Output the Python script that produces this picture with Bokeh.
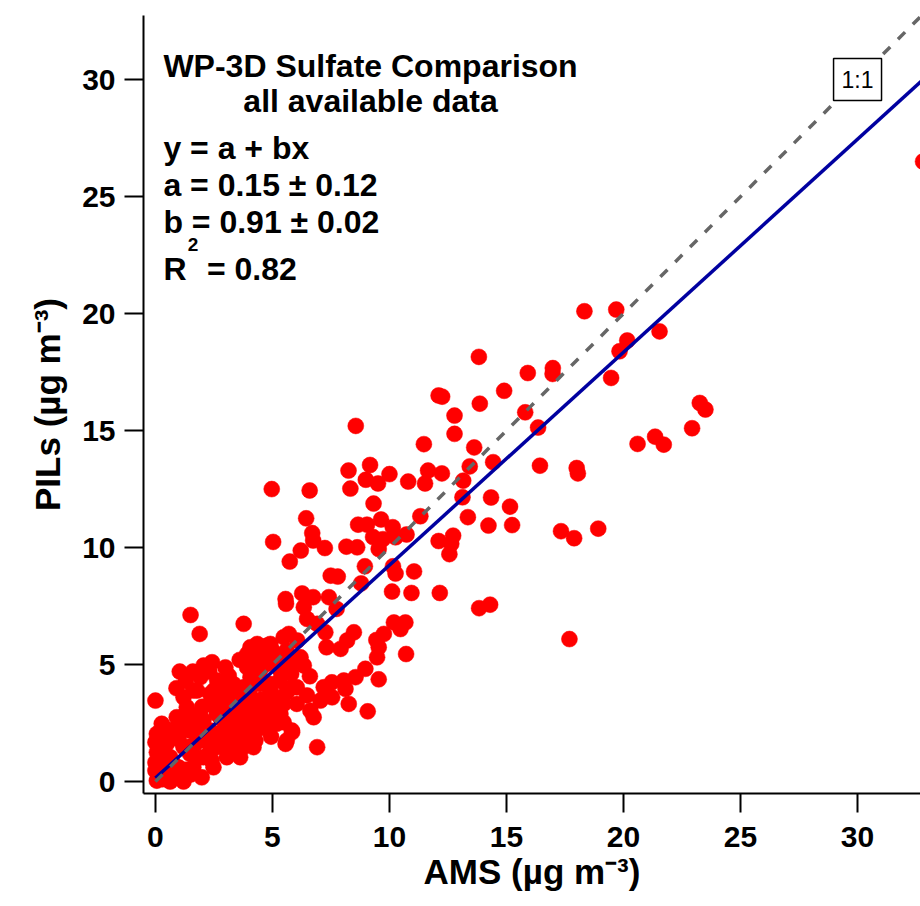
from bokeh.plotting import figure
from bokeh.models import Range1d, FixedTicker, Label, ColumnDataSource
from bokeh.embed import file_html
from bokeh.resources import INLINE

# ---- data ----
ams = [32.8, 18.33, 19.69, 21.54, 20.16, 19.83, 19.47, 13.82, 16.98, 16.97, 15.91, 12.25, 12.1,
       14.9, 13.86, 12.78, 12.78, 15.8, 16.35, 23.26, 23.5, 22.93, 21.35, 21.72, 20.6, 13.62,
       13.43, 14.43, 12.24, 13.15, 16.43, 18.0, 18.05, 13.12, 14.34, 15.15, 13.35, 14.23, 15.24,
       12.72, 12.64, 12.56, 12.1, 17.33, 17.89, 18.92, 12.15, 13.83, 14.3, 17.69,
       8.56, 11.47, 8.25, 9.17, 8.99, 9.51, 10.0, 8.33, 4.97, 6.59, 10.8, 11.65, 11.52, 9.32,
       6.44, 8.66, 9.04, 9.64, 10.14, 10.73, 11.32, 9.3, 9.72, 10.26, 9.54, 5.03, 6.7, 6.74,
       6.21, 7.24, 8.16, 8.62, 5.74, 8.95, 10.15, 10.26, 11.05, 7.49, 7.79, 8.79, 10.11, 10.94,
       6.27, 6.74, 7.41, 5.56,
       5.58, 6.34, 6.48, 6.91, 7.74, 7.26, 8.48, 5.7, 7.31, 7.91, 8.19, 10.19, 10.68, 10.47,
       9.76, 9.44, 9.54, 9.47, 10.71, 6.34, 8.97, 9.54, 8.55, 8.05, 7.54, 7.19, 8.12, 8.26,
       9.07, 5.84, 6.48, 7.05, 7.55, 5.48, 6.62, 6.76, 5.34, 5.48, 5.84, 5.56, 6.91, 4.94,
       4.27, 4.91, 4.35, 4.35, 5.48, 4.91, 4.35, 6.06, 5.34, 4.77, 6.2, 5.91,
       1.5, 1.89, 3.77, 1.04, 0.9, 0.0, 2.06, 2.42, 2.99, 4.06, 3.92, 4.77, 1.92, 2.64, 3.13,
       1.78, 2.49, 3.28, 3.92, 4.06, 3.77,
       0.27, 0.06, 0.0, 0.06, 0.0, 0.0, 0.06, 0.63, 1.2, 1.98, 2.48, 3.05, 3.62, 5.61, 5.83,
       5.18, 6.04, 6.04, 0.91, 1.34, 1.62, 2.34, 3.05, 4.05, 4.19, 3.76, 3.76, 3.19, 2.62,
       2.05, 1.62, 0.91, 1.2, 0.63, 0.48, 1.48, 2.05, 2.62, 3.19, 2.34, 3.05, 3.47, 3.33,
       4.47, 1.2, 4.19, 5.18, 0.34, 0.77, 1.48, 4.62, 4.9,
       0.3, 0.5, 1.0, 1.5, 0.3, 0.8, 1.0, 1.7, 2.3, 2.9, 2.8, 1.9, 2.3, 2.8, 3.5, 3.9, 3.4,
       4.0, 4.5, 4.6, 5.0, 5.3, 5.0, 4.5, 3.6, 5.6, 5.8, 6.6, 1.4, 2.6, 3.3, 4.2,
       0.5, 1.0, 1.3, 1.8, 2.2, 2.7, 3.2, 3.7, 4.2, 4.6, 5.0, 1.0, 1.6, 2.0, 2.5, 3.0, 3.5,
       4.0, 4.4, 1.3, 1.6, 2.3, 3.6, 4.2, 5.3, 5.6, 5.7, 4.8, 0.6, 1.2, 0.3, 0.2, 2.8, 3.4,
       2.0, 1.5, 0.9, 2.9, 4.1, 3.8, 3.3, 2.4]
pils = [26.5, 20.1, 20.17, 19.24, 18.85, 18.39, 17.25, 18.15, 17.67, 17.42, 17.46, 16.45, 16.5,
        16.7, 16.15, 15.64, 14.86, 15.78, 15.13, 16.18, 15.9, 15.1, 14.74, 14.4, 14.43, 14.28,
        13.47, 13.65, 13.17, 12.86, 13.5, 13.4, 13.17, 12.15, 12.14, 11.75, 11.3, 10.94, 10.96,
        10.51, 10.16, 9.72, 10.28, 10.7, 10.4, 10.81, 8.06, 7.41, 7.56, 6.09,
        15.2, 14.42, 13.29, 13.53, 12.9, 12.74, 13.14, 12.52, 12.5, 12.44, 12.82, 13.29, 12.74,
        11.88, 11.25, 10.98, 10.98, 11.2, 10.87, 10.56, 11.34, 10.45, 10.36, 10.44, 9.94, 10.24,
        10.62, 10.3, 9.87, 9.98, 10.04, 10.01, 9.4, 9.2, 9.2, 8.89, 8.98, 8.8, 8.76, 8.47, 8.12,
        8.06, 8.04, 7.88, 7.88, 7.8,
        7.6, 7.45, 6.95, 6.74, 7.38, 6.38, 6.38, 6.31, 5.74, 5.67, 6.03, 6.8, 6.8, 6.52, 6.31,
        6.05, 5.74, 5.31, 5.45, 4.96, 4.82, 4.37, 4.46, 4.32, 4.24, 4.03, 3.96, 3.32, 3.0, 4.03,
        3.68, 3.46, 3.6, 3.32, 3.03, 2.75, 2.89, 2.53, 2.11, 1.61, 1.47, 1.92, 1.75, 4.17, 3.18,
        2.61, 6.17, 5.88, 5.88, 6.03, 4.74, 5.03, 5.31, 5.17,
        7.12, 6.31, 6.74, 4.7, 3.99, 3.46, 4.96, 5.1, 4.88, 5.74, 5.45, 5.81, 4.46, 4.32, 4.53,
        3.89, 3.89, 3.89, 4.88, 4.46, 4.03,
        2.47, 2.04, 1.68, 1.25, 0.82, 0.47, 0.04, 0.0, 0.0, 0.18, 0.61, 1.04, 1.04, 1.75, 2.18,
        3.32, 3.32, 4.03, 2.75, 3.18, 3.89, 3.74, 3.74, 3.46, 1.47, 1.47, 2.18, 1.75, 1.47,
        1.04, 0.61, 0.33, 1.47, 1.04, 1.61, 2.18, 2.61, 2.89, 3.18, 2.18, 2.47, 2.61, 4.17,
        4.17, 3.6, 3.03, 2.47, 0.33, 0.76, 1.18, 2.75, 3.89,
        0.1, 0.5, 0.6, 0.3, 1.2, 1.9, 2.3, 1.6, 1.2, 1.5, 2.1, 2.9, 3.3, 3.5, 3.4, 2.5, 2.0,
        4.0, 4.8, 5.4, 5.6, 5.2, 3.7, 3.5, 3.0, 5.6, 4.6, 4.5, 2.5, 2.0, 2.7, 2.0,
        0.2, 0.2, 0.5, 1.0, 1.7, 1.9, 2.3, 2.6, 2.2, 2.3, 2.8, 1.8, 2.6, 3.2, 3.5, 4.0, 4.0,
        3.8, 4.6, 4.3, 4.7, 4.7, 5.2, 5.2, 4.3, 3.8, 4.9, 3.2, 2.2, 2.8, 1.9, 0.7, 2.7, 3.6,
        2.1, 1.5, 0.6, 3.1, 3.3, 1.9, 1.4, 0.9]

fit_a = 0.15
fit_b = 0.91
x_ticks = [0, 5, 10, 15, 20, 25, 30]
y_ticks = [0, 5, 10, 15, 20, 25, 30]
line_x = [0, 33]

title_lines = ["WP-3D Sulfate Comparison", "all available data"]
fit_lines = ["y = a + bx", "a = 0.15 \u00b1 0.12", "b = 0.91 \u00b1 0.02"]

FONT = "Liberation Sans"

p = figure(width=920, height=906, output_backend="svg", toolbar_location=None,
           x_range=Range1d(-0.51, 32.69), y_range=Range1d(-0.51, 32.74),
           min_border_left=143, min_border_right=0, min_border_top=15, min_border_bottom=113)
p.outline_line_color = None
p.grid.visible = False
p.background_fill_color = "white"
p.border_fill_color = "white"

for ax, ticks in ((p.xaxis[0], x_ticks), (p.yaxis[0], y_ticks)):
    ax.ticker = FixedTicker(ticks=ticks)
    ax.axis_line_width = 2
    ax.axis_line_color = "black"
    ax.major_tick_line_width = 2
    ax.major_tick_line_color = "black"
    ax.major_tick_out = 19
    ax.major_tick_in = 0
    ax.minor_tick_line_color = None
    ax.major_label_text_font = FONT
    ax.major_label_text_font_style = "bold"
    ax.major_label_text_font_size = "30px"
    ax.major_label_text_color = "black"
    ax.axis_label_text_font = FONT
    ax.axis_label_text_font_style = "bold"
    ax.axis_label_text_font_size = "35px"
    ax.axis_label_text_color = "black"

p.xaxis[0].axis_label = "AMS (\u00b5g m\u207b\u00b3)"
p.yaxis[0].axis_label = "PILs (\u00b5g m\u207b\u00b3)"
p.xaxis[0].major_label_standoff = 14
p.yaxis[0].major_label_standoff = 9
p.xaxis[0].axis_label_standoff = 2
p.yaxis[0].axis_label_standoff = 12

src = ColumnDataSource(dict(x=ams, y=pils))
p.scatter("x", "y", source=src, size=16, fill_color="#ff0000", line_color="#ff0000", line_width=0.5)

fit_y = [fit_a + fit_b * v for v in line_x]
p.line(line_x, fit_y, line_color="#0000a0", line_width=3.5)
p.line(line_x, line_x, line_color="#666666", line_width=3.5, line_dash="10 11")

def txt(x, y, s, size="32px", align="left", style="bold"):
    p.add_layout(Label(x=x, y=y, text=s, text_font=FONT, text_font_size=size,
                       text_font_style=style, text_align=align, text_baseline="alphabetic",
                       text_color="black"))

txt(0.34, 30.6, title_lines[0])
txt(9.19, 29.1, title_lines[1], align="center")
for i, s in enumerate(fit_lines):
    txt(0.34, [27.09, 25.51, 23.93][i], s)
txt(0.34, 21.92, "R")
txt(1.38, 22.95, "2", size="19px")
txt(2.2, 21.92, "= 0.82")

p.add_layout(Label(x=30, y=30, text="1:1", text_font=FONT, text_font_size="23px",
                   text_align="center", text_baseline="middle", text_color="black",
                   background_fill_color="white", border_line_color="black",
                   border_line_width=1.5, padding=8))

open("out.html", "w").write(file_html(p, INLINE))
